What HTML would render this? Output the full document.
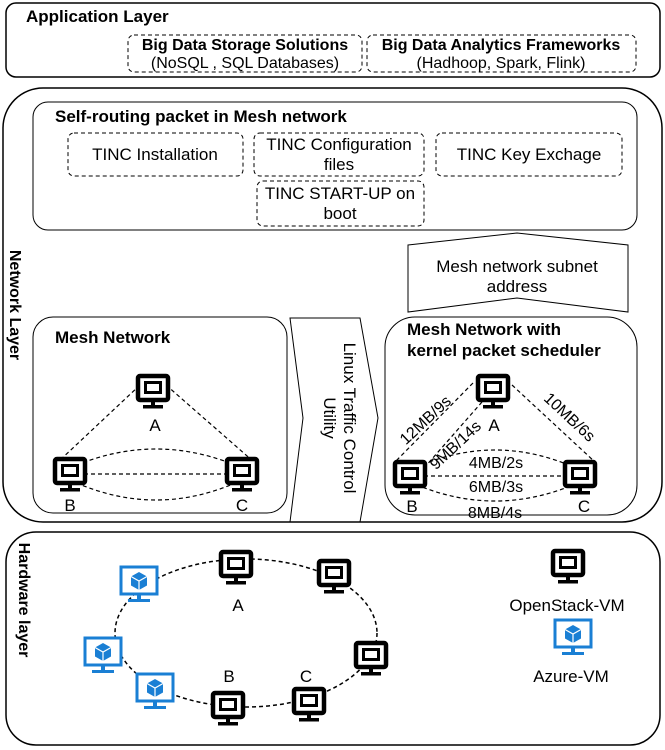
<!DOCTYPE html>
<html><head><meta charset="utf-8"><style>
body{margin:0;background:#fff}
svg{display:block;font-family:"Liberation Sans",Arial,sans-serif}
</style></head><body>
<svg width="665" height="750" viewBox="0 0 665 750" xmlns="http://www.w3.org/2000/svg">
<defs>
<g id="pc">
<rect x="-15" y="-14" width="30" height="24" rx="2" fill="#fff" stroke="#000" stroke-width="4.5"/>
<rect x="-7.5" y="-7.5" width="15" height="10" fill="none" stroke="#000" stroke-width="3"/>
<rect x="-2" y="11" width="4" height="4" fill="#000"/>
<rect x="-10" y="15" width="20" height="3.5" fill="#000"/>
</g>
<g id="az">
<rect x="-18" y="-15" width="36" height="27" fill="#fff" stroke="#1a7fd4" stroke-width="3"/>
<path d="M0,-10 L8,-5.5 L8,3.5 L0,8 L-8,3.5 L-8,-5.5 Z" fill="#1a7fd4"/>
<path d="M-8,-5.5 L0,-1 L8,-5.5 M0,-1 L0,8" stroke="#fff" stroke-width="1.2" fill="none"/>
<rect x="-2" y="12" width="4" height="5" fill="#1a7fd4"/>
<rect x="-11" y="17" width="22" height="3" fill="#1a7fd4"/>
</g>
</defs>
<g fill="none" stroke="#000">
<rect x="6" y="3" width="654" height="74" rx="10" stroke-width="1.5"/>
<rect x="128" y="35" width="234" height="37" rx="6" stroke-dasharray="4,3"/>
<rect x="367" y="35" width="269" height="37" rx="6" stroke-dasharray="4,3"/>
<rect x="3" y="88" width="659" height="434" rx="40" stroke-width="1.5"/>
<rect x="33" y="102" width="604" height="128" rx="15"/>
<rect x="68" y="133" width="175" height="43" rx="6" stroke-dasharray="4,3"/>
<rect x="254" y="133" width="170" height="43" rx="6" stroke-dasharray="4,3"/>
<rect x="436" y="133" width="186" height="43" rx="6" stroke-dasharray="4,3"/>
<rect x="257" y="181" width="167" height="45" rx="6" stroke-dasharray="4,3"/>
<polygon points="408,245 517,233 628,245 628,312 517,298 408,312"/>
<rect x="33" y="317" width="254" height="196" rx="20"/>
<polygon points="290,318 360,318 378,418 360,522 290,522 303,418"/>
<rect x="385" y="317" width="252" height="198" rx="30"/>
<rect x="6" y="532" width="654" height="213" rx="30" stroke-width="1.5"/>
<g stroke-dasharray="4,3" stroke-width="1.2">
<line x1="140" y1="385" x2="58" y2="462"/>
<line x1="166" y1="385" x2="254" y2="462"/>
<line x1="70" y1="474" x2="242" y2="474"/>
<path d="M70,468 Q156,430 242,468"/>
<path d="M70,480 Q156,520 242,480"/>
<line x1="473" y1="383" x2="395" y2="462"/>
<line x1="482" y1="402" x2="424" y2="468"/>
<line x1="512" y1="385" x2="595" y2="462"/>
<line x1="410" y1="476" x2="580" y2="476"/>
<path d="M410,470 Q495,430 580,470"/>
<path d="M410,482 Q495,520 580,482"/>
<ellipse cx="246" cy="633" rx="131" ry="74" stroke-width="1.5"/>
</g>
</g>
<use href="#pc" x="153" y="390"/><use href="#pc" x="70" y="473"/><use href="#pc" x="242" y="473"/>
<use href="#pc" x="493" y="390"/><use href="#pc" x="410" y="476"/><use href="#pc" x="580" y="476"/>
<use href="#pc" x="236" y="566"/><use href="#pc" x="334" y="575"/><use href="#pc" x="371" y="657"/>
<use href="#pc" x="309" y="703"/><use href="#pc" x="228" y="707"/><use href="#pc" x="568" y="565"/>
<use href="#az" x="139" y="582"/><use href="#az" x="103" y="653"/><use href="#az" x="155" y="689"/><use href="#az" x="573" y="635"/>
<g font-size="16" fill="#000">
<text x="26" y="22" font-weight="bold" font-size="17">Application Layer</text>
<text x="245" y="50" font-weight="bold" text-anchor="middle">Big Data Storage Solutions</text>
<text x="245" y="68" text-anchor="middle">(NoSQL , SQL Databases)</text>
<text x="501" y="50" font-weight="bold" text-anchor="middle">Big Data Analytics Frameworks</text>
<text x="501" y="68" text-anchor="middle">(Hadhoop, Spark, Flink)</text>
<text x="55" y="122" font-weight="bold" font-size="17">Self-routing packet in Mesh network</text>
<text x="155" y="160" text-anchor="middle" font-size="17">TINC Installation</text>
<text x="339" y="150" text-anchor="middle" font-size="17">TINC Configuration</text>
<text x="339" y="170" text-anchor="middle" font-size="17">files</text>
<text x="529" y="160" text-anchor="middle" font-size="17">TINC Key Exchage</text>
<text x="340" y="199" text-anchor="middle" font-size="17">TINC START-UP on</text>
<text x="340" y="219" text-anchor="middle" font-size="17">boot</text>
<text x="517" y="272" text-anchor="middle" font-size="17">Mesh network subnet</text>
<text x="517" y="292" text-anchor="middle" font-size="17">address</text>
<text x="55" y="343" font-weight="bold" font-size="17">Mesh Network</text>
<text x="407" y="335" font-weight="bold" font-size="17">Mesh Network  with</text>
<text x="407" y="356" font-weight="bold" font-size="17">kernel packet scheduler</text>
<text x="155" y="431" text-anchor="middle" font-size="17">A</text>
<text x="70" y="511" text-anchor="middle" font-size="17">B</text>
<text x="242" y="511" text-anchor="middle" font-size="17">C</text>
<text x="494" y="431" text-anchor="middle" font-size="17">A</text>
<text x="412" y="512" text-anchor="middle" font-size="17">B</text>
<text x="584" y="512" text-anchor="middle" font-size="17">C</text>
<text x="496" y="468" text-anchor="middle">4MB/2s</text>
<text x="496" y="492" text-anchor="middle">6MB/3s</text>
<text x="495" y="518" text-anchor="middle">8MB/4s</text>
<text transform="translate(429,424) rotate(-43)" text-anchor="middle">12MB/9s</text>
<text transform="translate(459,449) rotate(-43)" text-anchor="middle">9MB/14s</text>
<text transform="translate(566,421) rotate(43)" text-anchor="middle">10MB/6s</text>
<text transform="translate(344,418) rotate(90)" text-anchor="middle" font-size="17">Linux Traffic Control</text>
<text transform="translate(324,418) rotate(90)" text-anchor="middle" font-size="17">Utility</text>
<text transform="translate(10,305) rotate(90)" text-anchor="middle" font-weight="bold">Network Layer</text>
<text transform="translate(19,600) rotate(90)" text-anchor="middle" font-weight="bold">Hardware layer</text>
<text x="238" y="611" text-anchor="middle" font-size="17">A</text>
<text x="229" y="682" text-anchor="middle" font-size="17">B</text>
<text x="306" y="682" text-anchor="middle" font-size="17">C</text>
<text x="567" y="611" text-anchor="middle" font-size="17">OpenStack-VM</text>
<text x="571" y="682" text-anchor="middle" font-size="17">Azure-VM</text>
</g>
</svg>
</body></html>
